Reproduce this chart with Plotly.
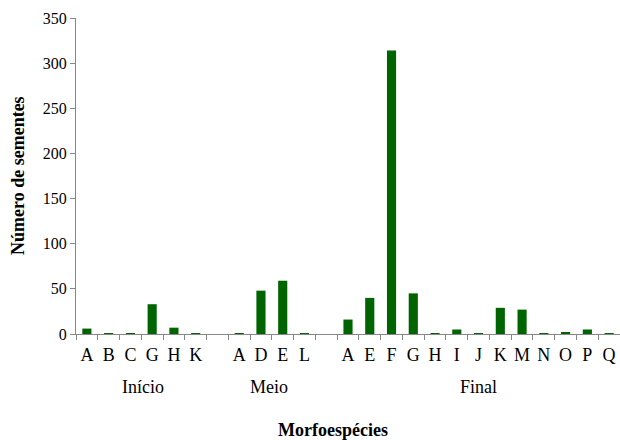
import plotly.graph_objects as go

groups = ["Início", "Meio", "Final"]
inicio_cats = ["A", "B", "C", "G", "H", "K"]
inicio_vals = [6, 0.5, 0.5, 33, 7, 0.5]
meio_cats = ["A", "D", "E", "L"]
meio_vals = [0.5, 48, 59, 0.5]
final_cats = ["A", "E", "F", "G", "H", "I", "J", "K", "M", "N", "O", "P", "Q"]
final_vals = [16, 40, 314, 45, 0.5, 5, 0.5, 29, 27, 0.5, 2, 5, 0.5]

# Build category keys (with blank spacer slots between groups)
keys, labels, values = [], [], []
for gi, (g, cats, vals) in enumerate(zip(groups, [inicio_cats, meio_cats, final_cats],
                                         [inicio_vals, meio_vals, final_vals])):
    if gi > 0:
        keys.append(f"gap{gi}")
        labels.append("")
        values.append(None)
    for c, v in zip(cats, vals):
        keys.append(f"{g}|{c}")
        labels.append(c)
        values.append(v)

fig = go.Figure(go.Bar(x=keys, y=values, marker=dict(color="#006400", line=dict(width=0))))

serif = "Liberation Serif, Times New Roman, serif"
fig.update_layout(
    width=620, height=440,
    margin=dict(l=76, r=0, t=18, b=106),
    paper_bgcolor="white", plot_bgcolor="white",
    bargap=0.58,
    showlegend=False,
    font=dict(family=serif, color="black"),
)
fig.update_xaxes(
    type="category", categoryorder="array", categoryarray=keys,
    tickmode="array", tickvals=keys, ticktext=labels, tickangle=0,
    automargin=False, ticklabelstandoff=4,
    tickson="boundaries", ticks="outside", ticklen=5, tickcolor="#888888",
    showline=True, linecolor="#888888", linewidth=1, showgrid=False,
    tickfont=dict(family=serif, size=18, color="black"),
)
fig.update_yaxes(
    range=[0, 350], tick0=0, dtick=50, ticks="outside", ticklen=5, tickcolor="#888888",
    automargin=False,
    showline=True, linecolor="#888888", linewidth=1, showgrid=False, zeroline=False,
    tickfont=dict(family=serif, size=16, color="black"),
)

group_pos = [0.123, 0.355, 0.739]
for g, xp in zip(groups, group_pos):
    fig.add_annotation(text=g, xref="paper", yref="paper", x=xp, y=-0.168,
                       xanchor="center", yanchor="middle", showarrow=False,
                       font=dict(family=serif, size=18, color="black"))

fig.add_annotation(text="<b>Morfoespécies</b>", xref="paper", yref="paper",
                   x=0.472, y=-0.305, xanchor="center", yanchor="middle",
                   showarrow=False, font=dict(family=serif, size=18, color="black"))
fig.add_annotation(text="<b>Número de sementes</b>", xref="paper", yref="paper",
                   x=-0.1066, y=0.5, xanchor="center", yanchor="middle",
                   textangle=-90, showarrow=False,
                   font=dict(family=serif, size=18, color="black"))

fig.write_html("out.html", config={"displayModeBar": False},
               post_script="document.body.style.margin='0';document.body.style.overflow='hidden';")
